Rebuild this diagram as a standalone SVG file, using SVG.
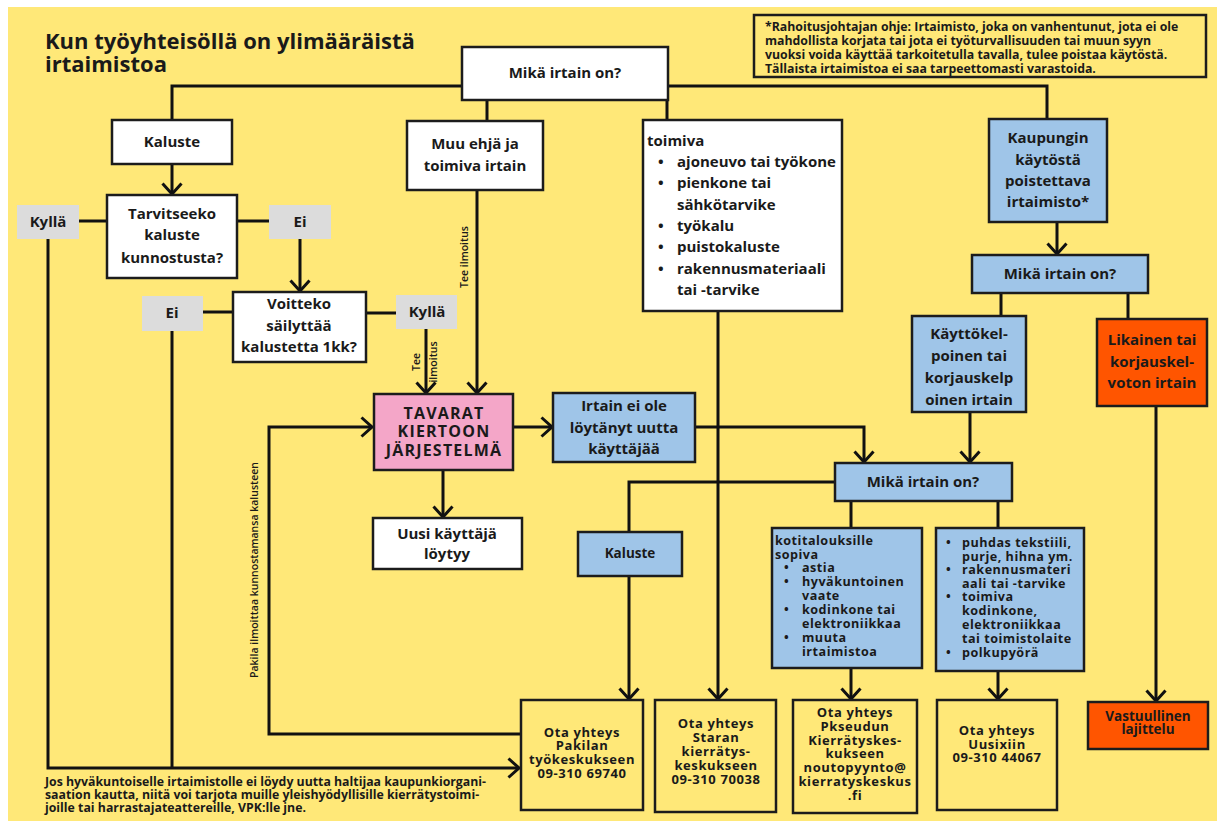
<svg xmlns="http://www.w3.org/2000/svg" width="1217" height="821" viewBox="0 0 1217 821">
<defs>
<style>
.bx{stroke:#1c1c1c;stroke-width:2.5}
.w{fill:#ffffff}
.b{fill:#9fc5e8}
.g{fill:#dcdcdc}
.p{fill:#f4a6c8}
.r{fill:#ff5500}
.y{fill:#ffe878}
.t{font-family:"Open Sans","Noto Sans","Liberation Sans",sans-serif;font-weight:700;fill:#1a1a1a}
.c{text-anchor:middle}
.f15{font-size:15px}
.f14{font-size:13px;letter-spacing:0.6px}
.f13{font-size:13.5px}
.fl{font-size:12.6px;letter-spacing:0.5px}
.f12{font-size:12.3px}
.f10{font-size:10.5px;font-weight:600}
.ln{fill:none;stroke:#111;stroke-width:3}
</style>
<marker id="arr" viewBox="0 0 14 22" refX="12" refY="11" markerWidth="14" markerHeight="22" markerUnits="userSpaceOnUse" orient="auto">
<path d="M1.5,1.5 L12,11 L1.5,20.5" fill="none" stroke="#111" stroke-width="3"/>
</marker>
</defs>
<rect x="0" y="0" width="1217" height="821" fill="#ffffff"/>
<rect x="8" y="7" width="1209" height="814" fill="#ffe878"/>

<g id="title">
<text class="t" font-size="22"><tspan x="45" y="49">Kun työyhteisöllä on ylimääräistä</tspan><tspan x="45" y="72">irtaimistoa</tspan></text>
</g>

<g id="note">
<rect class="bx y" x="754" y="15" width="452" height="62" stroke-width="2"/>
<text class="t f12"><tspan x="765" y="31">*Rahoitusjohtajan ohje: Irtaimisto, joka on vanhentunut, jota ei ole</tspan><tspan x="765" y="45">mahdollista korjata tai jota ei työturvallisuuden tai muun syyn</tspan><tspan x="765" y="59">vuoksi voida käyttää tarkoitetulla tavalla, tulee poistaa käytöstä.</tspan><tspan x="765" y="73">Tällaista irtaimistoa ei saa tarpeettomasti varastoida.</tspan></text>
</g>

<g id="connectors">
<polyline class="ln" points="462,86 172,86 172,120"/>
<polyline class="ln" points="668,86 1047,86 1047,119"/>
<line class="ln" x1="487" y1="100" x2="487" y2="121"/>
<line class="ln" x1="667" y1="100" x2="667" y2="120"/>
<line class="ln" x1="172" y1="164" x2="172" y2="194" marker-end="url(#arr)"/>
<line class="ln" x1="107" y1="221" x2="79" y2="221"/>
<line class="ln" x1="237" y1="221" x2="269" y2="221"/>
<line class="ln" x1="300" y1="239" x2="300" y2="291" marker-end="url(#arr)"/>
<line class="ln" x1="233" y1="312" x2="203" y2="312"/>
<line class="ln" x1="366" y1="313" x2="396" y2="313"/>
<line class="ln" x1="426" y1="329" x2="426" y2="393" marker-end="url(#arr)"/>
<line class="ln" x1="477" y1="190" x2="477" y2="393" marker-end="url(#arr)"/>
<polyline class="ln" points="48,239 48,768 519,768" marker-end="url(#arr)"/>
<line class="ln" x1="172" y1="331" x2="172" y2="768"/>
<polyline class="ln" points="521,734 269,734 269,427 372,427" marker-end="url(#arr)"/>
<line class="ln" x1="513" y1="427" x2="552" y2="427" marker-end="url(#arr)"/>
<line class="ln" x1="443" y1="470" x2="443" y2="517" marker-end="url(#arr)"/>
<polyline class="ln" points="695,427 864,427 864,462" marker-end="url(#arr)"/>
<line class="ln" x1="970" y1="412" x2="970" y2="462" marker-end="url(#arr)"/>
<line class="ln" x1="1057" y1="222" x2="1057" y2="254" marker-end="url(#arr)"/>
<line class="ln" x1="1001" y1="293" x2="1001" y2="316"/>
<line class="ln" x1="1128" y1="293" x2="1128" y2="319"/>
<line class="ln" x1="1156" y1="406" x2="1156" y2="701" marker-end="url(#arr)"/>
<polyline class="ln" points="835,482 629,482 629,532"/>
<line class="ln" x1="629" y1="576" x2="629" y2="699" marker-end="url(#arr)"/>
<line class="ln" x1="718" y1="311" x2="718" y2="699" marker-end="url(#arr)"/>
<line class="ln" x1="851" y1="501" x2="851" y2="528"/>
<line class="ln" x1="998" y1="501" x2="998" y2="528"/>
<line class="ln" x1="851" y1="668" x2="851" y2="699" marker-end="url(#arr)"/>
<line class="ln" x1="998" y1="671" x2="998" y2="699" marker-end="url(#arr)"/>
<text class="t f10 c" transform="translate(468,257) rotate(-90)">Tee ilmoitus</text>
<text class="t f10 c" transform="translate(428,362) rotate(-90)"><tspan x="0" y="-8">Tee</tspan><tspan x="0" y="9">ilmoitus</tspan></text>
<text class="t f10 c" transform="translate(258,570) rotate(-90)">Pakila ilmoittaa kunnostamansa kalusteen</text>
</g>

<g id="n-top">
<rect class="bx w" x="462" y="47" width="206" height="53"/>
<text class="t f15 c" x="565" y="78">Mikä irtain on?</text>
</g>

<g id="n-kaluste">
<rect class="bx w" x="112" y="120" width="120" height="44"/>
<text class="t f15 c" x="172" y="147">Kaluste</text>
</g>

<g id="n-tarvitseeko">
<rect class="bx w" x="107" y="195" width="130" height="83"/>
<text class="t f15 c"><tspan x="172" y="219">Tarvitseeko</tspan><tspan x="172" y="240">kaluste</tspan><tspan x="172" y="263">kunnostusta?</tspan></text>
</g>

<g id="n-kylla1">
<rect class="g" x="17" y="205" width="62" height="34"/>
<text class="t f15 c" x="48" y="227">Kyllä</text>
</g>

<g id="n-ei1">
<rect class="g" x="269" y="205" width="62" height="34"/>
<text class="t f15 c" x="300" y="227">Ei</text>
</g>

<g id="n-voitteko">
<rect class="bx w" x="233" y="292" width="133" height="70"/>
<text class="t f15 c"><tspan x="299" y="309">Voitteko</tspan><tspan x="299" y="331">säilyttää</tspan><tspan x="299" y="352">kalustetta 1kk?</tspan></text>
</g>

<g id="n-ei2">
<rect class="g" x="142" y="296" width="61" height="35"/>
<text class="t f15 c" x="172" y="318">Ei</text>
</g>

<g id="n-kylla2">
<rect class="g" x="396" y="295" width="61" height="34"/>
<text class="t f15 c" x="427" y="317">Kyllä</text>
</g>

<g id="n-muu">
<rect class="bx w" x="407" y="121" width="136" height="69"/>
<text class="t f15 c"><tspan x="475" y="149">Muu ehjä ja</tspan><tspan x="475" y="171">toimiva irtain</tspan></text>
</g>

<g id="n-toimiva">
<rect class="bx w" x="643" y="120" width="199" height="191"/>
<text class="t f15"><tspan x="647" y="146">toimiva</tspan><tspan x="658" y="167">•</tspan><tspan x="677" y="167">ajoneuvo tai työkone</tspan><tspan x="658" y="188">•</tspan><tspan x="677" y="188">pienkone tai</tspan><tspan x="677" y="210">sähkötarvike</tspan><tspan x="658" y="231">•</tspan><tspan x="677" y="231">työkalu</tspan><tspan x="658" y="252">•</tspan><tspan x="677" y="252">puistokaluste</tspan><tspan x="658" y="274">•</tspan><tspan x="677" y="274">rakennusmateriaali</tspan><tspan x="677" y="295">tai -tarvike</tspan></text>
</g>

<g id="n-kaupungin">
<rect class="bx b" x="989" y="119" width="118" height="103"/>
<text class="t f15 c"><tspan x="1048" y="143">Kaupungin</tspan><tspan x="1048" y="165">käytöstä</tspan><tspan x="1048" y="186">poistettava</tspan><tspan x="1048" y="207">irtaimisto*</tspan></text>
</g>

<g id="n-mika2">
<rect class="bx b" x="972" y="255" width="176" height="38"/>
<text class="t f15 c" x="1060" y="279">Mikä irtain on?</text>
</g>

<g id="n-kayttokel">
<rect class="bx b" x="912" y="316" width="114" height="96"/>
<text class="t f15 c"><tspan x="969" y="339">Käyttökel-</tspan><tspan x="969" y="361">poinen tai</tspan><tspan x="969" y="383">korjauskelp</tspan><tspan x="969" y="405">oinen irtain</tspan></text>
</g>

<g id="n-likainen">
<rect class="bx r" x="1097" y="319" width="110" height="87"/>
<text class="t f15 c"><tspan x="1152" y="345">Likainen tai</tspan><tspan x="1152" y="367">korjauskel-</tspan><tspan x="1152" y="388">voton irtain</tspan></text>
</g>

<g id="n-tavarat">
<rect class="bx p" x="374" y="394" width="139" height="76" stroke-width="3"/>
<text class="t c" font-size="16" letter-spacing="1.2"><tspan x="444" y="419">TAVARAT</tspan><tspan x="444" y="437">KIERTOON</tspan><tspan x="444" y="456">JÄRJESTELMÄ</tspan></text>
</g>

<g id="n-irtainei">
<rect class="bx b" x="553" y="393" width="142" height="69"/>
<text class="t f15 c"><tspan x="624" y="411">Irtain ei ole</tspan><tspan x="624" y="433">löytänyt uutta</tspan><tspan x="624" y="454">käyttäjää</tspan></text>
</g>

<g id="n-uusi">
<rect class="bx w" x="373" y="518" width="149" height="51"/>
<text class="t f15 c"><tspan x="447" y="539">Uusi käyttäjä</tspan><tspan x="447" y="559">löytyy</tspan></text>
</g>

<g id="n-mika3">
<rect class="bx b" x="835" y="463" width="177" height="38"/>
<text class="t f15 c" x="923" y="487">Mikä irtain on?</text>
</g>

<g id="n-kaluste2">
<rect class="bx b" x="578" y="532" width="104" height="44"/>
<text class="t f13 c" x="630" y="558">Kaluste</text>
</g>

<g id="n-kotitalous">
<rect class="bx b" x="772" y="528" width="150" height="140"/>
<text class="t fl"><tspan x="775" y="545">kotitalouksille</tspan><tspan x="775" y="559">sopiva</tspan><tspan x="784" y="572">•</tspan><tspan x="802" y="572">astia</tspan><tspan x="784" y="586">•</tspan><tspan x="802" y="586">hyväkuntoinen</tspan><tspan x="802" y="600">vaate</tspan><tspan x="784" y="614">•</tspan><tspan x="802" y="614">kodinkone tai</tspan><tspan x="802" y="628">elektroniikkaa</tspan><tspan x="784" y="642">•</tspan><tspan x="802" y="642">muuta</tspan><tspan x="802" y="656">irtaimistoa</tspan></text>
</g>

<g id="n-lista2">
<rect class="bx b" x="936" y="528" width="148" height="143"/>
<text class="t fl"><tspan x="946" y="547">•</tspan><tspan x="962" y="547">puhdas tekstiili,</tspan><tspan x="962" y="561">purje, hihna ym.</tspan><tspan x="946" y="574">•</tspan><tspan x="962" y="574">rakennusmateri</tspan><tspan x="962" y="588">aali tai -tarvike</tspan><tspan x="946" y="601">•</tspan><tspan x="962" y="601">toimiva</tspan><tspan x="962" y="615">kodinkone,</tspan><tspan x="962" y="629">elektroniikkaa</tspan><tspan x="962" y="643">tai toimistolaite</tspan><tspan x="946" y="657">•</tspan><tspan x="962" y="657">polkupyörä</tspan></text>
</g>

<g id="n-pakila">
<rect class="bx y" x="521" y="700" width="122" height="110" stroke-width="3"/>
<text class="t f14 c"><tspan x="582" y="737">Ota yhteys</tspan><tspan x="582" y="750">Pakilan</tspan><tspan x="582" y="764">työkeskukseen</tspan><tspan x="582" y="778">09-310 69740</tspan></text>
</g>

<g id="n-staran">
<rect class="bx y" x="655" y="700" width="121" height="112" stroke-width="3"/>
<text class="t f14 c"><tspan x="716" y="728">Ota yhteys</tspan><tspan x="716" y="742">Staran</tspan><tspan x="716" y="756">kierrätys-</tspan><tspan x="716" y="770">keskukseen</tspan><tspan x="716" y="784">09-310 70038</tspan></text>
</g>

<g id="n-pkseudun">
<rect class="bx y" x="793" y="700" width="124" height="113" stroke-width="3"/>
<text class="t f14 c"><tspan x="855" y="717">Ota yhteys</tspan><tspan x="855" y="731">Pkseudun</tspan><tspan x="855" y="745">Kierrätyskes-</tspan><tspan x="855" y="758">kukseen</tspan><tspan x="855" y="772">noutopyynto@</tspan><tspan x="855" y="786">kierratyskeskus</tspan><tspan x="855" y="800">.fi</tspan></text>
</g>

<g id="n-uusix">
<rect class="bx y" x="937" y="700" width="120" height="110" stroke-width="3"/>
<text class="t f14 c"><tspan x="997" y="735">Ota yhteys</tspan><tspan x="997" y="749">Uusixiin</tspan><tspan x="997" y="762">09-310 44067</tspan></text>
</g>

<g id="n-vastuullinen">
<rect class="bx r" x="1088" y="702" width="120" height="47" stroke-width="3"/>
<text class="t f13 c"><tspan x="1148" y="721">Vastuullinen</tspan><tspan x="1148" y="734">lajittelu</tspan></text>
</g>

<g id="footnote">
<text class="t f12"><tspan x="45" y="786">Jos hyväkuntoiselle irtaimistolle ei löydy uutta haltijaa kaupunkiorgani-</tspan><tspan x="45" y="799">saation kautta, niitä voi tarjota muille yleishyödyllisille kierrätystoimi-</tspan><tspan x="45" y="812">joille tai harrastajateattereille, VPK:lle jne.</tspan></text>
</g>
</svg>
